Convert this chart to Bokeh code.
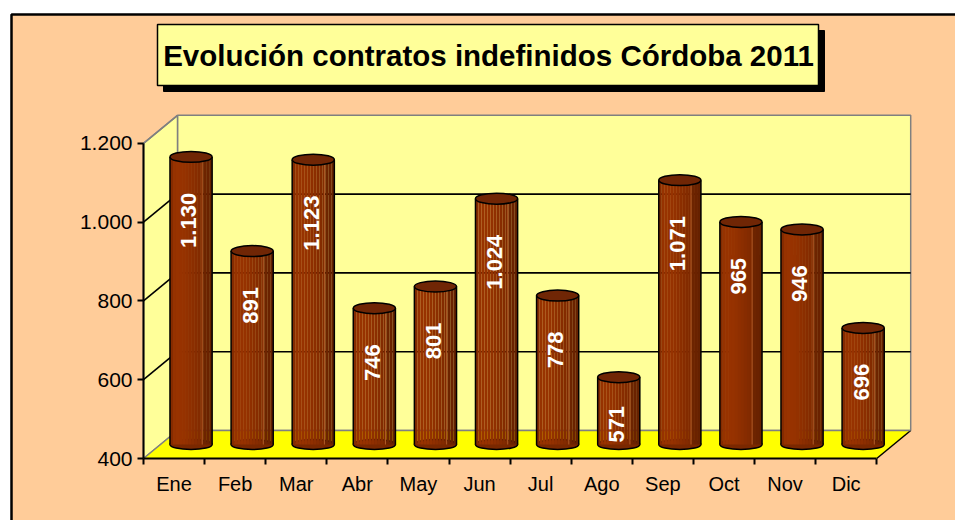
import numpy as np
from bokeh.plotting import figure
from bokeh.models import ColumnDataSource, LinearAxis, FixedTicker, Range1d
from bokeh.embed import file_html
from bokeh.resources import INLINE
from bokeh.core.properties import value

# ---------------- data ----------------
months = ["Ene", "Feb", "Mar", "Abr", "May", "Jun", "Jul", "Ago", "Sep", "Oct", "Nov", "Dic"]
contratos = [1130, 891, 1123, 746, 801, 1024, 778, 571, 1071, 965, 946, 696]
y_ticks = [400, 600, 800, 1000, 1200]
y_tick_labels = ["400", "600", "800", "1.000", "1.200"]
title_text = "Evolución contratos indefinidos Córdoba 2011"

# ---------------- geometry ----------------
W, H = 955, 520
X0_PX = 143.0      # front value axis, canvas px from left
Y0_PX = 458.0      # front floor line, canvas px from top
CAT_PX = 61.1      # px per category
UNIT_PX = 0.394    # px per value unit
YMIN, YMAX = 400, 1200
NCAT = len(months)

DX = 34.0 / CAT_PX     # depth offset in category units
DY = 28.0 / UNIT_PX    # depth offset in value units

def px2x(px):  # canvas px -> data x
    return (px - X0_PX) / CAT_PX

def px2y(py):  # canvas px -> data y
    return YMIN + (Y0_PX - py) / UNIT_PX

FONT_NAME = "Liberation Sans"
FONT = value(FONT_NAME)
PEACH = "#FFCC99"
WALL = "#FFFF99"
FLOOR = "#FFFF00"
GREY = "#808080"

p = figure(width=W, height=H,
           x_range=Range1d(-X0_PX / CAT_PX, (W - X0_PX) / CAT_PX),
           y_range=Range1d(YMIN - (H - Y0_PX) / UNIT_PX, YMIN + Y0_PX / UNIT_PX),
           output_backend="svg", toolbar_location=None, min_border=0,
           x_axis_type=None, y_axis_type=None,
           background_fill_color="white", border_fill_color="white",
           outline_line_color=None)

# outer chart area
p.quad(left=[px2x(11)], right=[px2x(1100)], top=[px2y(14)], bottom=[px2y(700)],
       fill_color=PEACH, line_color="black", line_width=2.5)

# title box with shadow
p.quad(left=[px2x(163)], right=[px2x(824)], top=[px2y(30)], bottom=[px2y(91)],
       fill_color="black", line_color="black")
p.quad(left=[px2x(157)], right=[px2x(818)], top=[px2y(24)], bottom=[px2y(85)],
       fill_color=WALL, line_color="black", line_width=1.5)
p.text(x=[px2x(488)], y=[px2y(55)], text=[title_text], text_align="center",
       text_baseline="middle", text_font=FONT, text_font_style="bold",
       text_font_size="29.5px", text_color="black")

# ---------------- 3D walls ----------------
p.patch(x=[DX, DX + NCAT, DX + NCAT, DX], y=[YMIN + DY, YMIN + DY, YMAX + DY, YMAX + DY],
        fill_color=WALL, line_color=GREY, line_width=1.5)
p.patch(x=[0, DX, DX, 0], y=[YMIN, YMIN + DY, YMAX + DY, YMAX],
        fill_color=WALL, line_color=GREY, line_width=1.5)
p.patch(x=[0, NCAT, NCAT + DX, DX], y=[YMIN, YMIN, YMIN + DY, YMIN + DY],
        fill_color=FLOOR, line_color=None)
p.segment(x0=[NCAT], y0=[YMIN], x1=[NCAT + DX], y1=[YMIN + DY], line_color="black", line_width=1.5)
p.segment(x0=[DX], y0=[YMIN + DY], x1=[DX + NCAT], y1=[YMIN + DY], line_color=GREY, line_width=1.5)

inner = [t for t in y_ticks if YMIN < t < YMAX]
p.segment(x0=[DX] * len(inner), y0=[t + DY for t in inner],
          x1=[DX + NCAT] * len(inner), y1=[t + DY for t in inner],
          line_color="black", line_width=1.6)
p.segment(x0=[0] * len(inner), y0=inner, x1=[DX] * len(inner), y1=[t + DY for t in inner],
          line_color="black", line_width=1.6)
p.segment(x0=[0, 0], y0=[YMIN, YMAX], x1=[DX, DX], y1=[YMIN + DY, YMAX + DY],
          line_color=GREY, line_width=1.5)

# ---------------- cylinders ----------------
vals = np.array(contratos, dtype=float)
xc = np.arange(NCAT) + 0.5 + DX / 2
BW = 0.69
base = YMIN + DY / 2
tops = vals + DY / 2

stops = [(0.0, (125, 40, 0)), (0.12, (153, 51, 0)), (0.35, (150, 50, 0)),
         (0.76, (126, 41, 0)), (0.77, (112, 37, 0)), (1.0, (100, 32, 0))]

def grad(t):
    for (t0, c0), (t1, c1) in zip(stops[:-1], stops[1:]):
        if t0 <= t <= t1:
            f = 0 if t1 == t0 else (t - t0) / (t1 - t0)
            c = [int(round(a + (b - a) * f)) for a, b in zip(c0, c1)]
            return "#%02x%02x%02x" % tuple(c)
    return "#%02x%02x%02x" % stops[-1][1]

NS = 14
sl, sr, sb, st, sc = [], [], [], [], []
for i in range(NCAT):
    for k in range(NS):
        l = xc[i] - BW / 2 + k * BW / NS
        sl.append(l)
        sr.append(l + BW / NS * 1.02)
        sb.append(base)
        st.append(tops[i])
        sc.append(grad((k + 0.5) / NS))
strips = ColumnDataSource(dict(left=sl, right=sr, bottom=sb, top=st, color=sc))

# data labels: end of text ~36px below the top, but kept inside the bar
labels = [f"{v:,}".replace(",", ".") for v in contratos]
label_len = [sum(12.2 if ch.isdigit() else 6.1 for ch in s) for s in labels]
bar_px = (vals - YMIN) * UNIT_PX
gap_px = np.minimum(36.0, bar_px - 2.0 - np.array(label_len))

bars = ColumnDataSource(dict(x=xc, base=[base] * NCAT, top=tops,
                             xl=xc - BW / 2, xr=xc + BW / 2,
                             xh=xc - BW / 2 + 0.765 * BW,
                             label=labels,
                             ly=tops - gap_px / UNIT_PX,
                             lx=xc - 0.035))

p.ellipse(x="x", y="base", width=BW, height=10, height_units="screen", source=bars,
          fill_color="#7a2800", line_color="black", line_width=1.5)
p.quad(left="left", right="right", bottom="bottom", top="top", fill_color="color",
       line_color=None, source=strips)
p.segment(x0="xh", y0="base", x1="xh", y1="top", source=bars, line_color="#c8783c",
          line_width=0.8, line_alpha=0.8)
p.segment(x0="xl", y0="base", x1="xl", y1="top", source=bars, line_color="black", line_width=1.5)
p.segment(x0="xr", y0="base", x1="xr", y1="top", source=bars, line_color="black", line_width=1.5)
p.ellipse(x="x", y="top", width=BW, height=11, height_units="screen", source=bars,
          fill_color="#702605", line_color="black", line_width=1.5)

p.text(x="lx", y="ly", text="label", source=bars, angle=np.pi / 2,
       text_align="right", text_baseline="middle", text_color="white",
       text_font=FONT, text_font_style="bold", text_font_size="22px")

# ---------------- axes ----------------
yaxis = LinearAxis(fixed_location=0, bounds=(YMIN, YMAX),
                   ticker=FixedTicker(ticks=y_ticks),
                   major_label_overrides={t: s for t, s in zip(y_ticks, y_tick_labels)},
                   axis_line_color="black", axis_line_width=2,
                   major_tick_line_color="black", major_tick_line_width=2,
                   major_tick_out=6, major_tick_in=0, minor_tick_out=0, minor_tick_in=0,
                   major_label_standoff=5,
                   major_label_text_font=FONT_NAME, major_label_text_font_size="21px",
                   major_label_text_color="black")
p.add_layout(yaxis, "left")

xaxis = LinearAxis(fixed_location=YMIN, bounds=(0, NCAT),
                   ticker=FixedTicker(ticks=list(range(NCAT + 1))),
                   major_label_text_color=None,
                   axis_line_color="black", axis_line_width=2,
                   major_tick_line_color="black", major_tick_line_width=2,
                   major_tick_out=6, major_tick_in=0, minor_tick_out=0, minor_tick_in=0)
p.add_layout(xaxis, "below")

xlab = LinearAxis(fixed_location=YMIN,
                  ticker=FixedTicker(ticks=[i + 0.5 for i in range(NCAT)]),
                  major_label_overrides={i + 0.5: m for i, m in enumerate(months)},
                  axis_line_color=None, major_tick_line_color=None,
                  major_tick_out=0, major_tick_in=0, minor_tick_out=0, minor_tick_in=0,
                  major_label_standoff=14,
                  major_label_text_font=FONT_NAME, major_label_text_font_size="20px",
                  major_label_text_color="black")
p.add_layout(xlab, "below")

open("out.html", "w").write(file_html(p, INLINE))
